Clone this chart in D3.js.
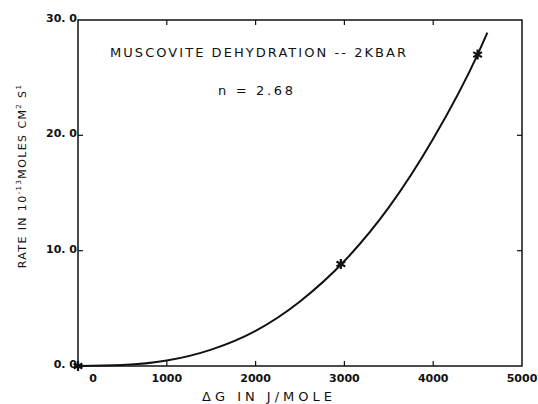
<html>
<head>
<script src="https://d3js.org/d3.v7.min.js"></script>
<style>
  body { margin: 0; background: #fff; }
  text { font-family: "DejaVu Sans", sans-serif; fill: #111; }
</style>
</head>
<body>
<svg id="chart" width="538" height="404"></svg>
<script>
// data
var xTicks = [0, 1000, 2000, 3000, 4000, 5000];
var xTickLabels = ["0", "1000", "2000", "3000", "4000", "5000"];
var yTicks = [0, 10, 20, 30];
var yTickLabels = ["0. 0", "10. 0", "20. 0", "30. 0"];

// measured points (asterisks)
var pointDG = [0, 2960, 4500];
var pointRate = [0, 8.85, 27.0];

// fitted curve
var curveDG = [0, 500, 1000, 1500, 2000, 2500, 3000, 3500, 4000, 4500, 4610];
var curveRate = [0, 0.08, 0.47, 1.42, 3.05, 5.6, 9.1, 13.75, 19.7, 27.0, 28.9];

var svg = d3.select("#chart");

// plot frame (don't call these top/left - window.top is taken)
var pLeft = 78, pRight = 522, pTop = 20, pBottom = 366;

var x = d3.scaleLinear().domain([0, 5000]).range([pLeft, pRight]);
var y = d3.scaleLinear().domain([0, 30]).range([pBottom, pTop]);

// frame
svg.append("rect")
    .attr("x", pLeft).attr("y", pTop)
    .attr("width", pRight - pLeft).attr("height", pBottom - pTop)
    .attr("fill", "none").attr("stroke", "#111").attr("stroke-width", 1.5);

// inner ticks on all four sides
var innerX = xTicks.slice(1, -1);
var innerY = yTicks.slice(1, -1);

svg.selectAll(".tb").data(innerX).enter().append("line")
    .attr("x1", d => x(d)).attr("x2", d => x(d))
    .attr("y1", pBottom).attr("y2", pBottom - 5)
    .attr("stroke", "#111").attr("stroke-width", 1.2);
svg.selectAll(".tt").data(innerX).enter().append("line")
    .attr("x1", d => x(d)).attr("x2", d => x(d))
    .attr("y1", pTop).attr("y2", pTop + 5)
    .attr("stroke", "#111").attr("stroke-width", 1.2);
svg.selectAll(".tl").data(innerY).enter().append("line")
    .attr("x1", pLeft).attr("x2", pLeft + 5)
    .attr("y1", d => y(d)).attr("y2", d => y(d))
    .attr("stroke", "#111").attr("stroke-width", 1.2);
svg.selectAll(".tr").data(innerY).enter().append("line")
    .attr("x1", pRight).attr("x2", pRight - 5)
    .attr("y1", d => y(d)).attr("y2", d => y(d))
    .attr("stroke", "#111").attr("stroke-width", 1.2);

// x tick labels (the 0 sits a bit to the right in the original)
svg.selectAll(".xl").data(xTicks).enter().append("text")
    .attr("x", (d, i) => i == 0 ? x(d) + 15 : x(d))
    .attr("y", 382)
    .attr("text-anchor", "middle")
    .attr("font-size", 11)
    .attr("font-weight", "bold")
    .text((d, i) => xTickLabels[i]);

// y tick labels
svg.selectAll(".yl").data(yTicks).enter().append("text")
    .attr("x", pLeft - 1)
    .attr("y", d => y(d) + 2)
    .attr("text-anchor", "end")
    .attr("font-size", 11)
    .attr("font-weight", "bold")
    .text((d, i) => yTickLabels[i]);

// curve
var line = d3.line()
    .x((d, i) => x(curveDG[i]))
    .y((d, i) => y(curveRate[i]))
    .curve(d3.curveMonotoneX);

svg.append("path")
    .datum(curveDG)
    .attr("d", line)
    .attr("fill", "none")
    .attr("stroke", "#111")
    .attr("stroke-width", 2);

// asterisks
var star = d3.symbol().type(d3.symbolAsterisk).size(70);
svg.selectAll(".pt").data(pointDG).enter().append("path")
    .attr("d", star)
    .attr("transform", (d, i) => "translate(" + x(d) + "," + y(pointRate[i]) + ")")
    .attr("fill", "none")
    .attr("stroke", "#111")
    .attr("stroke-width", 2.2);

// titles inside plot
svg.append("text")
    .attr("x", 110).attr("y", 57)
    .attr("font-size", 13)
    .attr("textLength", 296).attr("lengthAdjust", "spacing")
    .text("MUSCOVITE DEHYDRATION -- 2KBAR");

svg.append("text")
    .attr("x", 218).attr("y", 95)
    .attr("font-size", 13)
    .attr("textLength", 75).attr("lengthAdjust", "spacing")
    .text("n = 2.68");

// x axis title
svg.append("text")
    .attr("x", 202).attr("y", 401)
    .attr("font-size", 13)
    .attr("fill", "#333")
    .attr("textLength", 130).attr("lengthAdjust", "spacing")
    .text("\u0394G  IN  J/MOLE");

// y axis title (rotated)
var yt = svg.append("text")
    .attr("transform", "translate(26,176) rotate(-90)")
    .attr("text-anchor", "middle")
    .attr("font-size", 11)
    .attr("fill", "#333")
    .attr("letter-spacing", 1.4);
yt.append("tspan").text("RATE  IN  10");
yt.append("tspan").attr("dy", -5).attr("font-size", 7).text("-13");
yt.append("tspan").attr("dy", 5).text("MOLES  CM");
yt.append("tspan").attr("dy", -5).attr("font-size", 7).text("2");
yt.append("tspan").attr("dy", 5).text(" S");
yt.append("tspan").attr("dy", -5).attr("font-size", 7).text("1");
</script>
</body>
</html>
